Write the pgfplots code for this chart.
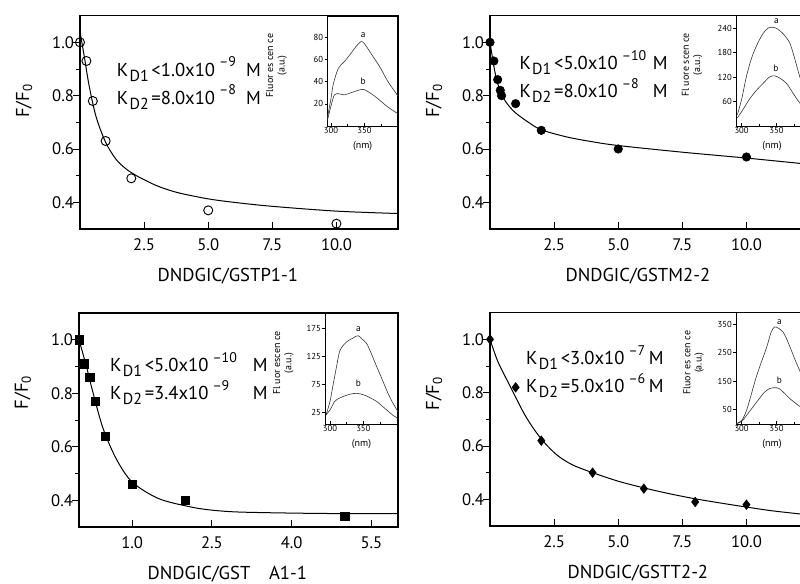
\documentclass[border=0pt]{standalone}
\usepackage{fontspec}
\setmainfont{PT Sans}
\usepackage{pgfplots}
\pgfplotsset{compat=1.18}

\newcommand\KDsub[1]{\hspace{1pt}\raisebox{-0.55ex}{\fontsize{12}{12}\selectfont #1}\hspace{2pt}}
\newcommand\KDsup[1]{\hspace{3pt}\raisebox{1.0ex}{\fontsize{10.5}{11}\selectfont #1}}
% one line of the K_D text, M set at a fixed distance
\newcommand\KDrow[3]{\makebox[#1][l]{K\KDsub{#2}#3}M}

\tikzset{
  kd/.style={anchor=north west, inner sep=0pt, font=\fontsize{14}{21}\selectfont},
  ab/.style={font=\fontsize{7}{7}\selectfont, inner sep=0pt},
}
\pgfplotsset{
  mainax/.style={
    scale only axis, anchor=south west, width=238.5pt, height=160pt,
    xmin=0, xmax=12.4, ymin=0.3, ymax=1.1,
    xtick={2.5,5,7.5,10},
    ytick={0.4,0.6,0.8,1.0}, minor ytick={0.5,0.7,0.9},
    xtick align=inside, ytick align=outside,
    xtick pos=left, ytick pos=left,
    major tick length=5pt, minor tick length=3pt,
    axis line style={line width=0.9pt},
    every tick/.style={black, line width=0.7pt},
    /pgf/number format/fixed, /pgf/number format/fixed zerofill,
    /pgf/number format/precision=1, /pgf/number format/assume math mode=true,
    tick label style={font=\fontsize{12.5}{14}\selectfont},
    xticklabel style={yshift=-4pt},
    yticklabel style={xshift=4pt},
    label style={font=\fontsize{14}{16}\selectfont},
    ylabel={F/F\textsubscript{0}},
    ylabel style={at={(axis description cs:-0.176,0.6)}, anchor=center},
    xlabel style={at={(axis description cs:0.465,-0.22)}, anchor=center},
  },
  fit/.style={black, line width=0.75pt, smooth, no marks},
  inset/.style={
    scale only axis, anchor=south west, ymin=0,
    axis line style={line width=0.6pt},
    xtick={300,350}, minor xtick={325,375},
    xtick align=inside, ytick align=outside,
    xtick pos=left, ytick pos=left,
    major tick length=2pt, minor tick length=1.2pt,
    every tick/.style={black, line width=0.4pt},
    /pgf/number format/assume math mode=true,
    tick label style={font=\fontsize{6.5}{7}\selectfont, inner sep=1pt},
    label style={font=\fontsize{7.5}{8.5}\selectfont},
    xlabel={(nm)}, xlabel style={yshift=-1pt},
    ylabel={Fluor es cen ce\\(a.u.)},
    ylabel style={align=center, anchor=center},
  },
  spec/.style={black!80, line width=0.45pt, smooth, no marks},
}

\begin{document}
\begin{tikzpicture}
\useasboundingbox (0,0) rectangle (600pt,-438pt);
\clip (0,0) rectangle (600pt,-438pt);

% top left: GSTP1-1
\begin{axis}[mainax, at={(60pt,-171.75pt)}, xlabel={DNDGIC/GSTP1-1}]
\addplot[fit] coordinates {(0,1.04)(0.17,0.945)(0.36,0.835)(0.63,0.72)(1.0,0.625)(1.4,0.562)(1.8,0.525)(2.2,0.5)(2.6,0.48)(3.0,0.462)(3.5,0.445)(4.0,0.432)(5.0,0.413)(6.0,0.4)(7.5,0.385)(10,0.367)(12.4,0.358)};
\addplot[only marks, mark=o, mark size=3.4pt, mark options={line width=0.7pt, fill=white}] coordinates {(0,1.0)(0.25,0.93)(0.5,0.78)(1.0,0.63)(2.0,0.49)(5.0,0.37)(10.0,0.32)};
\node[kd] at (rel axis cs:0.115,0.81) {\begin{tabular}{@{}l@{}}\KDrow{97pt}{D1}{<1.0x10\KDsup{–9}}\\ \KDrow{97pt}{D2}{=8.0x10\KDsup{–8}}\end{tabular}};
\end{axis}
\begin{axis}[inset, at={(245.5pt,-94.5pt)}, width=53pt, height=82.5pt,
  xmin=294.5, xmax=400, ymax=99, ytick={20,40,60,80},
  ylabel style={at={(axis description cs:-0.72,0.55)}}]
\addplot[spec] coordinates {(294.5,7)(300,25)(303.5,38)(311,52)(320,58)(328,64)(338,72)(345,76)(350,74)(360,65)(373,53)(385,40)(400,27)};
\addplot[spec] coordinates {(294.5,5)(300,18)(305,28)(312,29)(320,28)(330,30)(340,32)(348,33)(355,31)(365,27)(373,23)(385,17)(400,11)};
\node[ab] at (axis cs:348,82) {a};
\node[ab] at (axis cs:348,40) {b};
\end{axis}

% top right: GSTM2-2
\begin{axis}[mainax, at={(367.5pt,-171.75pt)}, xlabel={DNDGIC/GSTM2-2}]
\addplot[fit] coordinates {(0,1.0)(0.1,0.94)(0.2,0.885)(0.3,0.845)(0.5,0.795)(0.75,0.76)(1.0,0.735)(1.5,0.70)(2.0,0.672)(3.0,0.645)(4.0,0.627)(5.0,0.613)(7.5,0.588)(10.0,0.566)(12.4,0.543)};
\addplot[only marks, mark=*, mark size=3.2pt] coordinates {(0,1.0)(0.15,0.93)(0.3,0.86)(0.4,0.82)(0.45,0.80)(1.0,0.77)(2.0,0.67)(5.0,0.60)(10.0,0.57)};
\node[kd] at (rel axis cs:0.092,0.84) {\begin{tabular}{@{}l@{}}\KDrow{100pt}{D1}{<5.0x10\KDsup{–10}}\\ \KDrow{100pt}{D2}{=8.0x10\KDsup{–8}}\end{tabular}};
\end{axis}
\begin{axis}[inset, at={(552pt,-94.5pt)}, width=54pt, height=83.25pt,
  xmin=292, xmax=395, ymax=272, ytick={60,120,180,240},
  ylabel={Fl uore scen ce\\(a.u.)},
  ylabel style={at={(axis description cs:-0.61,0.55)}}]
\addplot[spec] coordinates {(294,28)(300,65)(307,122)(314,165)(321,195)(330,225)(338,240)(345,242)(352,237)(360,225)(369,203)(376,165)(383,122)(390,90)(395,75)};
\addplot[spec] coordinates {(294,20)(300,35)(311,65)(320,85)(331,105)(340,120)(347,123)(355,117)(364,105)(373,82)(383,57)(395,40)};
\node[ab] at (axis cs:350,258) {a};
\node[ab] at (axis cs:349,142) {b};
\end{axis}

% bottom left: GSTA1-1
\begin{axis}[mainax, at={(59.25pt,-395.25pt)}, width=239.25pt, height=160.5pt,
  xmax=6, xtick={1.0,2.5,4.0,5.5}, xlabel={DNDGIC/GST\quad A1-1},
  ylabel style={at={(axis description cs:-0.176,0.63)}}]
\addplot[fit] coordinates {(0,1.0)(0.14,0.90)(0.26,0.805)(0.45,0.67)(0.7,0.555)(1.0,0.468)(1.5,0.406)(2.1,0.375)(2.5,0.363)(3.0,0.356)(4.0,0.352)(5.0,0.35)(6.0,0.35)};
\addplot[only marks, mark=square*, mark size=3.1pt] coordinates {(0,1.0)(0.1,0.91)(0.2,0.86)(0.3,0.77)(0.5,0.64)(1.0,0.46)(2.0,0.40)(5.0,0.34)};
\node[kd] at (rel axis cs:0.097,0.82) {\begin{tabular}{@{}l@{}}\KDrow{107pt}{D1}{<5.0x10\KDsup{–10}}\\ \KDrow{107pt}{D2}{=3.4x10\KDsup{–9}}\end{tabular}};
\end{axis}
\begin{axis}[inset, at={(243.75pt,-318pt)}, width=54.75pt, height=83pt,
  xmin=292.5, xmax=402, ymin=5, ymax=201.7, ytick={25,75,125,175},
  ylabel={Fl uor escen ce\\(a.u.)},
  ylabel style={at={(axis description cs:-0.57,0.55)}}]
\addplot[spec] coordinates {(294,21)(300,45)(305,77)(310,108)(315,136)(325,151)(335,158)(342,162)(348,156)(355,148)(362,130)(370,107)(378,85)(385,65)(393,45)(402,27)};
\addplot[spec] coordinates {(294,21)(300,30)(307,45)(314,51)(320,54)(330,58)(340,59.5)(350,57)(358,53)(370,45)(380,35)(388,27)(395,20)(402,15)};
\node[ab] at (axis cs:342.5,173) {a};
\node[ab] at (axis cs:342.5,77) {b};
\end{axis}

% bottom right: GSTT2-2
\begin{axis}[mainax, at={(367.5pt,-394.5pt)}, xlabel={DNDGIC/GSTT2-2},
  ylabel style={at={(axis description cs:-0.176,0.62)}}]
\addplot[fit] coordinates {(0,1.0)(0.3,0.918)(0.7,0.84)(1.0,0.783)(1.35,0.718)(1.7,0.665)(2.1,0.615)(2.6,0.567)(3.2,0.53)(4.0,0.5)(5.0,0.468)(6.0,0.443)(7.0,0.421)(8.0,0.402)(9.0,0.386)(10.0,0.371)(11.0,0.357)(12.4,0.342)};
\addplot[only marks, mark=diamond*, mark size=3.6pt] coordinates {(0,1.0)(1,0.82)(2,0.62)(4,0.50)(6,0.44)(8,0.39)(10,0.38)};
\node[kd] at (rel axis cs:0.113,0.85) {\begin{tabular}{@{}l@{}}\KDrow{92pt}{D1}{<3.0x10\KDsup{–7}}\\ \KDrow{92pt}{D2}{=5.0x10\KDsup{–6}}\end{tabular}};
\end{axis}
\begin{axis}[inset, at={(552pt,-318pt)}, width=54pt, height=83.5pt,
  xmin=292, xmax=395, ymax=390, ytick={50,150,250,350},
  ylabel style={at={(axis description cs:-0.59,0.55)}}]
\addplot[spec] coordinates {(292,1)(300,12)(307,47)(314,105)(321,165)(328,215)(336,270)(342,320)(347,340)(353,335)(359,323)(365,295)(371,259)(377,222)(383,188)(389,160)(395,140)};
\addplot[spec] coordinates {(292,1)(300,9)(308,33)(316,59)(325,88)(333,112)(340,124)(345,127)(350,127)(354,124)(362,106)(369,89)(376,75)(383,62)(395,45)};
\node[ab] at (axis cs:354,358) {a};
\node[ab] at (axis cs:354,153) {b};
\end{axis}
\end{tikzpicture}
\end{document}
